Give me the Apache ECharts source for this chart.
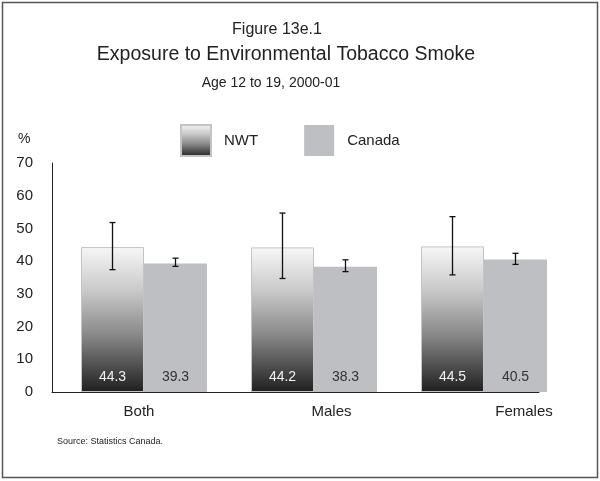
<!DOCTYPE html>
<html>
<head>
<meta charset="utf-8">
<script src="https://cdn.jsdelivr.net/npm/echarts@6/dist/echarts.min.js"></script>
<style>
  html, body { margin: 0; padding: 0; background: #fff; }
  #chart { width: 600px; height: 481px; }
</style>
</head>
<body>
<div id="chart"></div>
<script>
// Exposure to environmental tobacco smoke, age 12 to 19, 2000-01 (%)
const categories = ['Both', 'Males', 'Females'];
const seriesNames = ['NWT', 'Canada'];
const nwtValues = [44.3, 44.2, 44.5];
const canadaValues = [39.3, 38.3, 40.5];
// 95% confidence intervals
const nwtLow = [37.4, 34.7, 35.8];
const nwtHigh = [51.8, 54.7, 53.6];
const canadaLow = [38.4, 36.8, 39.0];
const canadaHigh = [40.9, 40.4, 42.4];
const yMin = 0, yMax = 70, yStep = 10;

const FONT = '"Liberation Sans", Arial, sans-serif';
const BAR_W = 63;

const nwtFill = new echarts.graphic.LinearGradient(0, 0, 0, 1, [
  { offset: 0, color: '#f7f7f7' },
  { offset: 0.3, color: '#c9c9c9' },
  { offset: 0.6, color: '#8a8a8a' },
  { offset: 1, color: '#1f1f1f' }
]);
const canadaFill = '#bebfc3';

function errorBarData(low, high) {
  return low.map((l, i) => [i, l, high[i]]);
}

function errorRenderer(offset) {
  return function (params, api) {
    const lo = api.coord([api.value(0), api.value(1)]);
    const hi = api.coord([api.value(0), api.value(2)]);
    const x = lo[0] + offset;
    const cap = 3;
    const style = { stroke: '#111', lineWidth: 1.3 };
    return {
      type: 'group',
      children: [
        { type: 'line', shape: { x1: x, y1: hi[1], x2: x, y2: lo[1] }, style },
        { type: 'line', shape: { x1: x - cap, y1: hi[1], x2: x + cap, y2: hi[1] }, style },
        { type: 'line', shape: { x1: x - cap, y1: lo[1], x2: x + cap, y2: lo[1] }, style }
      ]
    };
  };
}

const gridTop = 163, gridBottom = 89;
const hiddenY = (g) => ({
  type: 'value', gridIndex: g, min: yMin, max: yMax, interval: yStep, show: false
});

const option = {
  animation: false,
  backgroundColor: '#fff',
  textStyle: { fontFamily: FONT, color: '#222' },
  title: [
    { text: 'Figure 13e.1', left: 272, top: 17, textAlign: 'center',
      textStyle: { fontFamily: FONT, fontSize: 16, fontWeight: 'normal', color: '#222' } },
    { text: 'Exposure to Environmental Tobacco Smoke', left: 281, top: 40, textAlign: 'center',
      textStyle: { fontFamily: FONT, fontSize: 19.5, fontWeight: 'normal', color: '#222' } },
    { text: 'Age 12 to 19, 2000-01', left: 266, top: 71, textAlign: 'center',
      textStyle: { fontFamily: FONT, fontSize: 14, fontWeight: 'normal', color: '#222' } }
  ],
  legend: {
    data: seriesNames.map((n) => ({ name: n, icon: 'rect' })),
    left: 180, top: 124, padding: 0,
    itemWidth: 30, itemHeight: 31,
    itemGap: 46,
    textStyle: { fontFamily: FONT, fontSize: 15, color: '#222', padding: [0, 0, 0, 8] }
  },
  graphic: [
    { type: 'rect', shape: { x: 2.5, y: 2.5, width: 595, height: 475 },
      style: { fill: 'none', stroke: '#555', lineWidth: 1.5 }, silent: true },
    { type: 'text', left: 18, top: 132,
      style: { text: '%', font: '14px ' + FONT, fill: '#222' } },
    { type: 'text', left: 57, top: 437,
      style: { text: 'Source: Statistics Canada.', font: '9px ' + FONT, fill: '#222' } }
  ],
  grid: [
    // axes frame
    { left: 52, right: 61, top: gridTop, bottom: gridBottom },
    // bars
    { left: 59, width: 510, top: gridTop, bottom: gridBottom },
    // category labels
    { left: 139, width: 385, top: gridTop, bottom: gridBottom }
  ],
  xAxis: [
    { type: 'category', gridIndex: 0, data: categories,
      axisLine: { lineStyle: { color: '#222', width: 1 } },
      axisTick: { show: false }, axisLabel: { show: false } },
    { type: 'category', gridIndex: 1, data: categories, show: false },
    { type: 'category', gridIndex: 2, data: categories, boundaryGap: false,
      axisLine: { show: false }, axisTick: { show: false },
      axisLabel: { fontFamily: FONT, fontSize: 15, color: '#222', margin: 12 } }
  ],
  yAxis: [
    { type: 'value', gridIndex: 0, min: yMin, max: yMax, interval: yStep,
      axisLine: { show: true, lineStyle: { color: '#222', width: 1 } },
      axisTick: { show: false }, splitLine: { show: false },
      axisLabel: { fontFamily: FONT, fontSize: 15, color: '#222', margin: 19 } },
    hiddenY(1),
    hiddenY(2)
  ],
  series: [
    {
      name: 'NWT', type: 'bar', xAxisIndex: 1, yAxisIndex: 1,
      data: nwtValues, barWidth: BAR_W, barGap: '0%',
      itemStyle: { color: nwtFill, borderColor: '#c4c4c4', borderWidth: 1 },
      label: { show: true, position: 'insideBottom', distance: 8,
        fontFamily: FONT, fontSize: 14, color: '#f2f2f2',
        formatter: (p) => p.value.toFixed(1) }
    },
    {
      name: 'Canada', type: 'bar', xAxisIndex: 1, yAxisIndex: 1,
      data: canadaValues, barWidth: BAR_W, barGap: '0%',
      itemStyle: { color: canadaFill },
      label: { show: true, position: 'insideBottom', distance: 8,
        fontFamily: FONT, fontSize: 14, color: '#333',
        formatter: (p) => p.value.toFixed(1) }
    },
    {
      type: 'custom', xAxisIndex: 1, yAxisIndex: 1, z: 10,
      data: errorBarData(nwtLow, nwtHigh),
      renderItem: errorRenderer(-BAR_W / 2), encode: { x: 0, y: [1, 2] }
    },
    {
      type: 'custom', xAxisIndex: 1, yAxisIndex: 1, z: 10,
      data: errorBarData(canadaLow, canadaHigh),
      renderItem: errorRenderer(BAR_W / 2), encode: { x: 0, y: [1, 2] }
    }
  ]
};

echarts.init(document.getElementById('chart'), null, { renderer: 'canvas' }).setOption(option);
</script>
</body>
</html>
